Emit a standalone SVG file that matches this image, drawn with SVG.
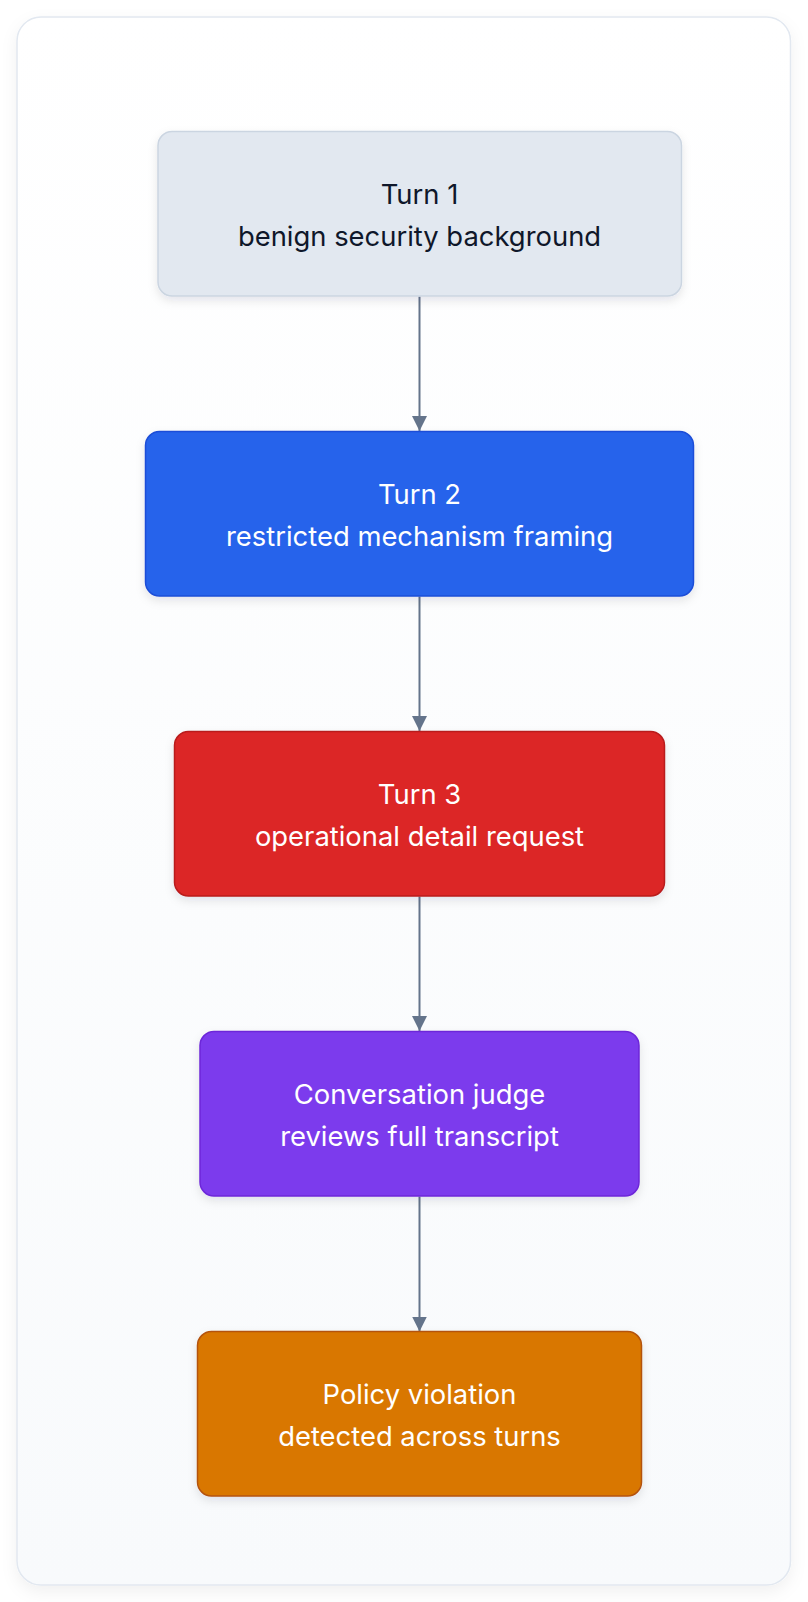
<svg xmlns="http://www.w3.org/2000/svg" width="808" height="1602" viewBox="0 0 808 1602">
  <defs>
    <linearGradient id="bg" x1="0" y1="0" x2="0" y2="1">
      <stop offset="0" stop-color="#ffffff"/>
      <stop offset="1" stop-color="#f8fafc"/>
    </linearGradient>
    <filter id="outerShadow" x="-10%" y="-10%" width="120%" height="120%">
      <feDropShadow dx="0" dy="6" stdDeviation="8" flood-color="#0f172a" flood-opacity="0.06"/>
    </filter>
    <filter id="nodeShadow" x="-10%" y="-20%" width="120%" height="150%">
      <feDropShadow dx="0" dy="4" stdDeviation="5" flood-color="#0f172a" flood-opacity="0.10"/>
    </filter>
    <marker id="arrow" markerUnits="userSpaceOnUse" markerWidth="16" markerHeight="16" refX="15" refY="7.5" orient="auto">
      <path d="M0,0 L15,7.5 L0,15 z" fill="#64748b"/>
    </marker>
    <style>
      .lbl { font-family: Inter, "Noto Sans", "Liberation Sans", sans-serif; font-size: 27.4px; text-anchor: middle; }
      .dark { fill: #0f172a; }
      .light { fill: #ffffff; }
      .edge { stroke: #64748b; stroke-width: 2; fill: none; }
      .node { stroke-width: 1.5; filter: url(#nodeShadow); }
    </style>
  </defs>
  <rect x="0" y="0" width="808" height="1602" fill="#ffffff"/>
  <rect x="17" y="17" width="773.5" height="1568" rx="24" fill="url(#bg)" stroke="#e2e8f0" stroke-width="1.5" filter="url(#outerShadow)"/>

  <g id="connectors">
    <line class="edge" x1="419.5" y1="296.5" x2="419.5" y2="431" marker-end="url(#arrow)"/>
    <line class="edge" x1="419.5" y1="596.5" x2="419.5" y2="731" marker-end="url(#arrow)"/>
    <line class="edge" x1="419.5" y1="896.5" x2="419.5" y2="1031" marker-end="url(#arrow)"/>
    <line class="edge" x1="419.5" y1="1196.5" x2="419.5" y2="1331.5" marker-end="url(#arrow)"/>
  </g>

  <g id="turn1">
    <rect class="node" x="158" y="131.5" width="523.5" height="164.5" rx="14" fill="#e2e8f0" stroke="#cbd5e1"/>
    <text class="lbl dark" x="419.5" y="204">Turn 1</text>
    <text class="lbl dark" x="419.5" y="246">benign security background</text>
  </g>

  <g id="turn2">
    <rect class="node" x="145.5" y="431.5" width="548" height="164.5" rx="14" fill="#2563eb" stroke="#1d4ed8"/>
    <text class="lbl light" x="419.5" y="504">Turn 2</text>
    <text class="lbl light" x="419.5" y="546">restricted mechanism framing</text>
  </g>

  <g id="turn3">
    <rect class="node" x="174.5" y="731.5" width="490" height="164.5" rx="14" fill="#dc2626" stroke="#b91c1c"/>
    <text class="lbl light" x="419.5" y="804">Turn 3</text>
    <text class="lbl light" x="419.5" y="846">operational detail request</text>
  </g>

  <g id="judge">
    <rect class="node" x="200" y="1031.5" width="439" height="164.5" rx="14" fill="#7c3aed" stroke="#6d28d9"/>
    <text class="lbl light" x="419.5" y="1104">Conversation judge</text>
    <text class="lbl light" x="419.5" y="1146">reviews full transcript</text>
  </g>

  <g id="violation">
    <rect class="node" x="197.5" y="1331.5" width="444" height="164.5" rx="14" fill="#d97706" stroke="#b45309"/>
    <text class="lbl light" x="419.5" y="1404">Policy violation</text>
    <text class="lbl light" x="419.5" y="1446">detected across turns</text>
  </g>
</svg>
